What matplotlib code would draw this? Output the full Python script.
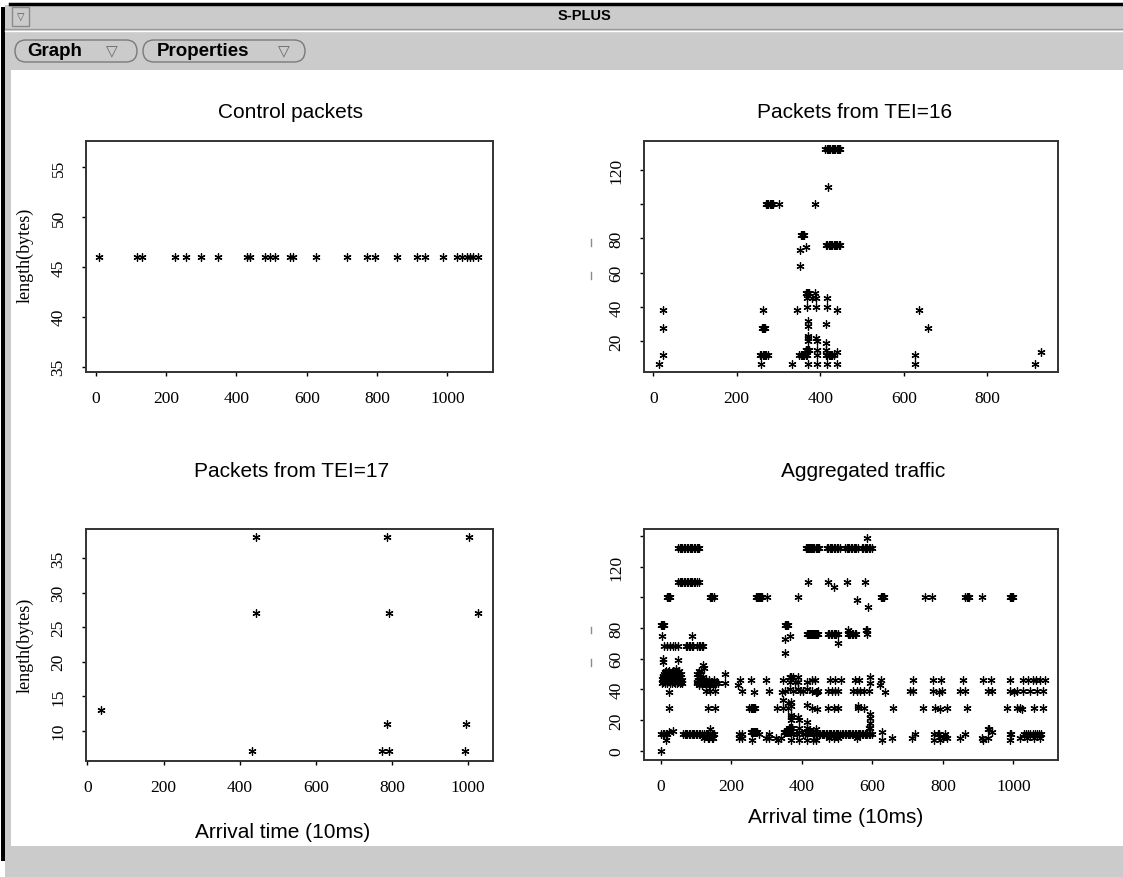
import matplotlib
matplotlib.use('Agg')
import matplotlib.pyplot as plt
from matplotlib.patches import Rectangle, FancyBboxPatch
from matplotlib.lines import Line2D

# ---------------- data ----------------
# Control packets: all 46 bytes long
ctrl_time = [9, 116, 130, 225, 256, 299, 348, 429, 438, 481, 495, 510, 552, 562,
             626, 714, 771, 794, 856, 913, 936, 989, 1027, 1041, 1055, 1065, 1074, 1088]
ctrl_length = 46

# Packets from TEI=16 (grouped by packet length)
tei16_len = [132, 110, 100, 82, 76, 75, 73, 64, 48, 45, 40, 38, 32, 30, 29, 28,
             23, 22, 20, 19, 15, 14, 12, 7]
tei16_times = [
    [412, 415, 418, 421, 424, 427, 430, 433, 436, 439, 442, 445, 448],
    [418],
    [270, 273, 276, 279, 282, 285, 288, 302, 388],
    [353, 356, 359, 362],
    [414, 417, 420, 423, 426, 429, 432, 435, 438, 441, 444, 447],
    [366],
    [352],
    [352],
    [366, 368, 370, 374, 388],
    [368, 380, 390, 416],
    [368, 390, 416],
    [24, 264, 344, 440, 636],
    [370],
    [414],
    [370],
    [24, 260, 262, 264, 266, 268, 658],
    [370],
    [370, 390],
    [370, 392],
    [414],
    [365, 367, 369, 371, 373, 392, 414],
    [440, 928],
    [24, 256, 259, 262, 265, 268, 271, 274, 350, 353, 356, 359, 362, 365, 368,
     392, 414, 417, 420, 423, 426, 429, 432, 628],
    [14, 258, 332, 370, 392, 416, 440, 628, 914],
]

# Packets from TEI=17
tei17_time = [36, 432, 443, 443, 775, 786, 788, 792, 792, 991, 994, 1001, 1025]
tei17_len = [13, 7, 27, 38, 7, 11, 38, 7, 27, 7, 11, 38, 27]

# Remaining packets of the aggregated traffic (other sources), by length
extra_len = [139, 132, 110, 107, 100, 98, 94, 82, 79, 76, 75, 70, 68, 60, 59, 58,
             56, 54, 53, 52, 51, 50, 49, 48, 47, 46, 45, 44, 43, 39, 33, 31, 29,
             28, 24, 21, 18, 15, 14, 12, 11, 8, 0]
extra_times = [
    [584],
    [50, 54, 58, 62, 66, 70, 74, 78, 82, 86, 90, 94, 98, 102, 106, 110,
     471, 475, 479, 483, 487, 491, 495, 499, 503, 507,
     523, 527, 531, 535, 539, 543, 547, 551, 555, 559,
     570, 574, 578, 582, 586, 590, 594, 598],
    [50, 54, 58, 62, 66, 70, 74, 78, 82, 86, 90, 94, 98, 102, 108, 475, 527, 580],
    [490],
    [18, 21, 24, 27, 141, 144, 147, 150, 625, 628, 631, 634, 750, 768,
     864, 867, 870, 873, 910, 990, 993, 996, 999],
    [557],
    [589],
    [0, 3, 6, 9],
    [532, 582, 586],
    [474, 478, 482, 486, 490, 494, 498, 502, 530, 534, 538, 542, 546, 550, 554, 584],
    [3, 88],
    [504],
    [10, 18, 26, 34, 42, 50, 72, 76, 80, 84, 88, 92, 104, 108, 112, 116, 120],
    [8],
    [50],
    [8],
    [119],
    [124],
    [45],
    [14, 24, 34, 44, 52, 108, 114],
    [12, 22, 32, 42],
    [10, 18, 26, 34, 42, 50, 58, 104, 112, 182],
    [8, 18, 28, 38, 48],
    [6, 13, 20, 27, 34, 41, 48, 55, 106, 112, 120, 592],
    [3, 13, 23, 33, 43, 53],
    [14, 22, 30, 38, 46, 54, 62, 106, 124, 138, 150],
    [8, 18, 28, 38, 48, 58, 104, 112, 120, 128, 136, 144, 152],
    [5, 12, 19, 26, 33, 40, 47, 54, 61, 104, 110, 116, 122, 128, 134, 140, 146,
     152, 158, 164, 182, 592],
    [108, 118, 128, 138, 148, 218, 622],
    [130, 140, 154, 230, 308, 352, 376, 395, 404, 428, 447, 475, 485, 494, 504,
     546, 556, 565, 575, 590, 707, 716, 773, 797, 849, 863, 929, 938, 990, 1010,
     1028, 1047, 1066, 1085],
    [348],
    [362],
    [560],
    [135, 154, 250, 256, 329, 348, 362, 428, 475, 490, 504, 560, 575, 745, 778,
     811, 868, 981, 1010, 1019, 1057, 1085],
    [593],
    [593],
    [593],
    [590, 594],
    [140, 930],
    [940],
    [2, 6, 10, 14, 18, 64, 68, 72, 76, 80, 84, 88, 92, 96, 100, 104, 108, 112, 116,
     122, 128, 134, 140, 146, 152, 222, 232, 280, 308, 376, 386, 404, 410, 436,
     440, 444, 448, 452, 456, 460, 464, 468, 472, 476, 480, 484, 488, 492, 496,
     500, 504, 508, 514, 518, 522, 526, 530, 534, 538, 542, 546, 550, 554, 558,
     562, 566, 570, 574, 578, 582, 586, 590, 594, 598, 721, 775, 790, 805, 863,
     990, 1030, 1036, 1042, 1048, 1054, 1060, 1066, 1072, 1078],
    [124, 134, 136, 146, 148, 222, 232, 300, 308, 326, 340, 476, 490, 504, 556,
     655, 712, 800, 811, 849, 910, 929, 1019, 1038, 1057, 1076],
    [0],
]

titles = ["Control packets", "Packets from TEI=16", "Packets from TEI=17",
          "Aggregated traffic"]
xlabel_text = "Arrival time (10ms)"
ylabel_text = "length(bytes)"


def flatten(lens, times):
    xs, ys = [], []
    for L, ts in zip(lens, times):
        for t in ts:
            xs.append(t)
            ys.append(L)
    return xs, ys


ctrl_x = list(ctrl_time)
ctrl_y = [ctrl_length for _ in ctrl_time]
t16_x, t16_y = flatten(tei16_len, tei16_times)
t17_x, t17_y = list(tei17_time), list(tei17_len)
ex_x, ex_y = flatten(extra_len, extra_times)
agg_x = ctrl_x + t16_x + t17_x + ex_x
agg_y = ctrl_y + t16_y + t17_y + ex_y

# ---------------- figure ----------------
W, H = 1123, 878
fig = plt.figure(figsize=(W / 100, H / 100), dpi=100)
fig.patch.set_facecolor('white')
GRAY = '#cbcbcb'


def fx(x):
    return x / W


def fy(y):
    return 1 - y / H


def rect(x0, y0, x1, y1, color, z=0):
    fig.add_artist(Rectangle((x0, H - y1), x1 - x0, y1 - y0, transform=None,
                             facecolor=color, edgecolor='none', zorder=z))


def hline(x0, x1, y, color, lw=1.0):
    fig.add_artist(Line2D([x0, x1], [H - y, H - y], transform=None, color=color,
                          lw=lw))


def vline(x, y0, y1, color, lw=1.0):
    fig.add_artist(Line2D([x, x], [H - y0, H - y1], transform=None, color=color,
                          lw=lw))


# window chrome
rect(5, 6, W, 71, GRAY)
rect(5, 847, W, H, GRAY)
rect(5, 6, 11, 878, GRAY)
rect(1, 8, 5, 862, 'black')
hline(10, W, 4.5, 'black', lw=2.5)
hline(5, W, 30, '#9a9a9a', lw=1)
hline(5, W, 31.5, 'white', lw=1)
# small window-menu button
fig.add_artist(Rectangle((12, H - 27), 17, 19, transform=None, facecolor=GRAY,
                         edgecolor='#8a8a8a', lw=1))
fig.text(fx(20.5), fy(17), '\u25BD', ha='center', va='center', fontsize=7,
         color='#555555', family='DejaVu Sans')
fig.text(fx(584), fy(16), 'S-PLUS', ha='center', va='center', fontsize=10.5,
         fontweight='bold', family=['Liberation Sans Narrow', 'Liberation Sans'])
# menu buttons
for (bx0, bx1, label, tx, ax_) in [(15, 137, 'Graph', 27, 112),
                                   (143, 305, 'Properties', 157, 284)]:
    fig.add_artist(FancyBboxPatch((bx0, H - 63), bx1 - bx0, 22,
                                  boxstyle='round,pad=0,rounding_size=11',
                                  transform=None, facecolor=GRAY,
                                  edgecolor='#7a7a7a', lw=1))
    fig.text(fx(tx), fy(52), label, ha='left', va='center', fontsize=13.5,
             fontweight='bold', family=['Liberation Sans Narrow', 'Liberation Sans'])
    fig.text(fx(ax_), fy(51.5), '\u25BD', ha='center', va='center', fontsize=11,
             color='#666666', family='DejaVu Sans')

SERIF = ['Liberation Serif', 'DejaVu Serif']
SANS = ['Liberation Sans', 'DejaVu Sans']
NARROW = ['Liberation Sans Narrow', 'Liberation Sans', 'DejaVu Sans']


def panel(box, xs, ys, xlim, ylim, xticks, yticks, ylabels):
    x0, y0, x1, y1 = box
    ax = fig.add_axes([fx(x0), fy(y1), (x1 - x0) / W, (y1 - y0) / H])
    ax.plot(xs, ys, ls='none', marker=(6, 2, 0), ms=5.8, mew=0.9, color='black')
    ax.set_xlim(*xlim)
    ax.set_ylim(*ylim)
    ax.set_xticks(xticks)
    ax.set_xticklabels([str(t) for t in xticks], family=SERIF, fontsize=12.5)
    ax.set_yticks(yticks)
    ax.set_yticklabels(ylabels, family=SERIF, fontsize=12.5, rotation=90,
                       va='center')
    ax.tick_params(direction='out', length=3, width=1, colors='black')
    ax.tick_params(axis='x', pad=10)
    ax.tick_params(axis='y', pad=11)
    for s in ax.spines.values():
        s.set_linewidth(1.4)
        s.set_color('#333333')
    return ax


panel((86, 142, 493, 372.7), ctrl_x, ctrl_y, (-28, 1130), (34.5, 57.6),
      [0, 200, 400, 600, 800, 1000], [35, 40, 45, 50, 55],
      ['35', '40', '45', '50', '55'])
panel((644, 142.3, 1058.3, 372.7), t16_x, t16_y, (-22, 970), (2.3, 136.6),
      [0, 200, 400, 600, 800], [20, 40, 60, 80, 100, 120],
      ['20', '40', '60', '80', '', '120'])
panel((86, 530, 493.3, 761.7), t17_x, t17_y, (-3.6, 1066), (5.65, 39.2),
      [0, 200, 400, 600, 800, 1000], [10, 15, 20, 25, 30, 35],
      ['10', '15', '20', '25', '30', '35'])
panel((644, 530, 1058.3, 761), agg_x, agg_y, (-47, 1127), (-6.1, 144.6),
      [0, 200, 400, 600, 800, 1000], [0, 20, 40, 60, 80, 100, 120, 140],
      ['0', '20', '40', '60', '80', '', '120', ''])

# titles
fig.text(fx(290), fy(112), titles[0], ha='center', va='center', fontsize=15,
         family=SANS)
fig.text(fx(855), fy(112), titles[1], ha='center', va='center', fontsize=15,
         family=SANS)
fig.text(fx(292), fy(472), titles[2], ha='center', va='center', fontsize=15,
         family=SANS)
fig.text(fx(863), fy(472), titles[3], ha='center', va='center', fontsize=15,
         family=SANS)

# axis labels
fig.text(fx(25), fy(255), ylabel_text, rotation=90, ha='center', va='center',
         fontsize=13, family=SERIF)
fig.text(fx(25), fy(645), ylabel_text, rotation=90, ha='center', va='center',
         fontsize=13, family=SERIF)
fig.text(fx(283), fy(833), xlabel_text, ha='center', va='center', fontsize=15,
         family=NARROW)
fig.text(fx(836), fy(818), xlabel_text, ha='center', va='center', fontsize=15,
         family=NARROW)

# faint remnants of the (hidden) y labels on the right-hand panels
for (ya, yb) in [(240, 247), (273, 280), (628, 634), (660, 667)]:
    vline(590.7, ya, yb, '#8c8c8c', lw=1)

fig.savefig('out.png', dpi=100, facecolor='white')
